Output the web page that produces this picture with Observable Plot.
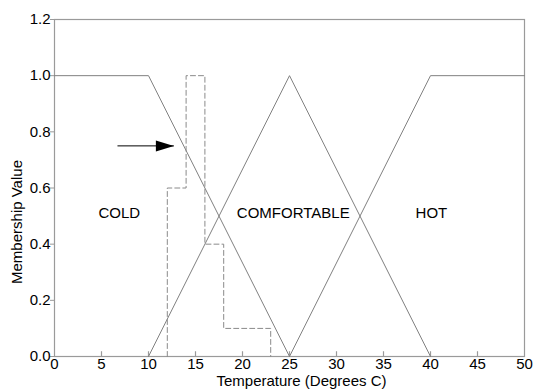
<!DOCTYPE html>
<html>
<head>
<meta charset="utf-8">
<script src="https://cdn.jsdelivr.net/npm/d3@7"></script>
<script src="https://cdn.jsdelivr.net/npm/@observablehq/plot@0.6"></script>
<style>
  body { margin: 0; background: #fff; }
  svg { font-family: "Liberation Sans", Arial, sans-serif; }
</style>
</head>
<body>
<div id="chart"></div>
<script>
// Membership functions (temperature, membership)
const coldX = [0, 10, 25];
const coldY = [1, 1, 0];
const comfortX = [10, 25, 40];
const comfortY = [0, 1, 0];
const hotX = [25, 40, 50];
const hotY = [0, 1, 1];

// Dashed step (histogram-like) series: bin edges and values
const stepEdges = [12, 14, 16, 18, 23];
const stepValues = [0.6, 1.0, 0.4, 0.1];

// Arrow
const arrowX1 = 6.7, arrowX2 = 12.7, arrowY = 0.75;

// Region labels
const labelNames = ["COLD", "COMFORTABLE", "HOT"];
const labelX = [6.9, 25.4, 40.1];
const labelY = [0.51, 0.51, 0.51];

// Ticks
const xTicks = [0, 5, 10, 15, 20, 25, 30, 35, 40, 45, 50];
const yTicks = [0, 0.2, 0.4, 0.6, 0.8, 1.0, 1.2];

const xTitle = "Temperature (Degrees C)";
const yTitle = "Membership Value";

const toPts = (xs, ys) => xs.map((x, i) => ({x, y: ys[i]}));
const stepPts = [{x: stepEdges[0], y: 0}]
  .concat(stepValues.map((v, i) => ({x: stepEdges[i], y: v})))
  .concat([{x: stepEdges[stepEdges.length - 1], y: 0}]);

const labels = labelNames.map((t, i) => ({t, x: labelX[i], y: labelY[i]}));

// filled arrowhead symbol with tip at origin
const headSymbol = {
  draw(ctx) {
    ctx.moveTo(0, 0);
    ctx.lineTo(-18, -5.5);
    ctx.lineTo(-18, 5.5);
    ctx.closePath();
  }
};

const lineColor = "#808080";
const axisColor = "#9a9a9a";

const plot = Plot.plot({
  width: 535,
  height: 390,
  marginLeft: 54,
  marginRight: 11,
  marginTop: 19,
  marginBottom: 34,
  style: {fontFamily: "Liberation Sans, Arial, sans-serif", background: "#fff"},
  x: {domain: [0, 50]},
  y: {domain: [0, 1.2]},
  marks: [
    Plot.frame({stroke: axisColor, strokeWidth: 1.2}),
    Plot.axisX({ticks: xTicks, tickSize: 0, tickPadding: 2, fontSize: 15, fill: "#000", label: null, tickFormat: d3.format("d")}),
    Plot.ruleX(xTicks.slice(1, -1), {y1: 0, y2: 0.017, stroke: axisColor, strokeWidth: 1.2}),
    Plot.axisY({ticks: yTicks, tickSize: 4, tickPadding: 0, fontSize: 15, fill: "#000", stroke: axisColor, label: null, tickFormat: d3.format(".1f")}),
    Plot.line(toPts(coldX, coldY), {x: "x", y: "y", stroke: lineColor, strokeWidth: 1}),
    Plot.line(toPts(comfortX, comfortY), {x: "x", y: "y", stroke: lineColor, strokeWidth: 1}),
    Plot.line(toPts(hotX, hotY), {x: "x", y: "y", stroke: lineColor, strokeWidth: 1}),
    Plot.line(stepPts, {x: "x", y: "y", curve: "step-after", stroke: "#8a8a8a", strokeWidth: 1, strokeDasharray: "5,3"}),
    Plot.link([{x1: arrowX1, x2: arrowX2, y: arrowY}], {x1: "x1", x2: "x2", y1: "y", y2: "y", stroke: "#000", strokeWidth: 1}),
    Plot.dot([{x: arrowX2, y: arrowY}], {x: "x", y: "y", symbol: headSymbol, r: 5, fill: "#000", stroke: null}),
    Plot.text(labels, {x: "x", y: "y", text: "t", fontSize: 15, fill: "#000"}),
    Plot.text([xTitle], {frameAnchor: "bottom", dx: 12, dy: 29, fontSize: 15, fill: "#000"}),
    Plot.text([yTitle], {frameAnchor: "left", textAnchor: "middle", rotate: -90, dx: -37, dy: 34, fontSize: 15, fill: "#000"})
  ]
});
document.getElementById("chart").appendChild(plot);
</script>
</body>
</html>
